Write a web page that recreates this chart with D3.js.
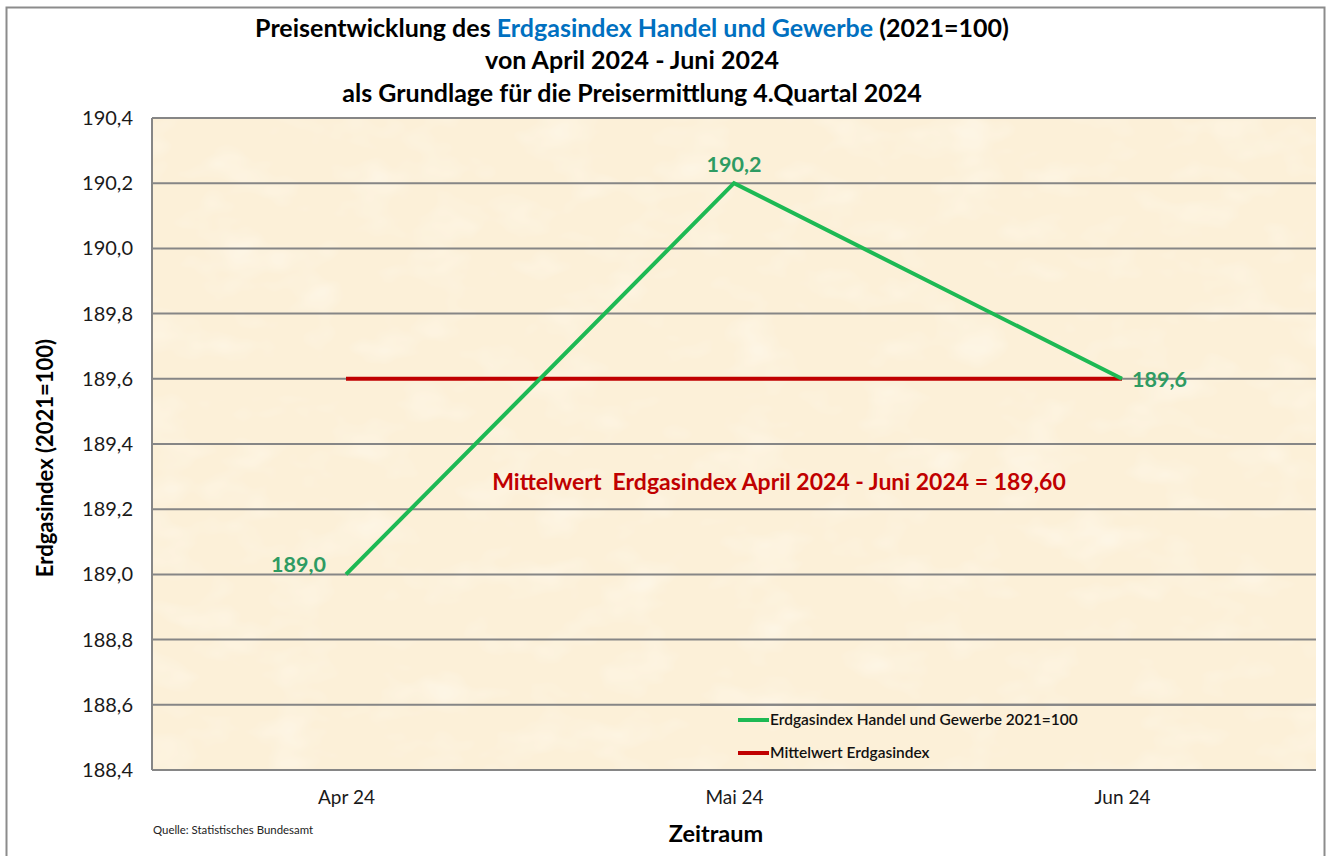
<!DOCTYPE html>
<html>
<head>
<meta charset="utf-8">
<script src="https://cdn.jsdelivr.net/npm/d3@7"></script>
<style>
  body { margin: 0; background: #fff; }
  text { font-family: Lato, "Noto Sans", sans-serif; }
</style>
</head>
<body>
<div id="chart"></div>
<script>
// data
var months = ["Apr 24", "Mai 24", "Jun 24"];
var indexValues = [189.0, 190.2, 189.6];
var meanValue = 189.6;
var yTicks = [188.4, 188.6, 188.8, 189.0, 189.2, 189.4, 189.6, 189.8, 190.0, 190.2, 190.4];

var w = 1332, h = 856;
var plot = {left: 152, right: 1316, top: 118, bottom: 770};

var svg = d3.select("#chart").append("svg")
    .attr("width", w)
    .attr("height", h);

// parchment look
var defs = svg.append("defs");
var filt = defs.append("filter").attr("id", "paper")
    .attr("x", 0).attr("y", 0).attr("width", 1).attr("height", 1);
filt.append("feTurbulence")
    .attr("type", "fractalNoise")
    .attr("baseFrequency", "0.015 0.025")
    .attr("numOctaves", 3)
    .attr("seed", 4)
    .attr("result", "noise");
filt.append("feColorMatrix")
    .attr("in", "noise")
    .attr("type", "matrix")
    .attr("values", "0 0 0 0 1  0 0 0 0 0.97  0 0 0 0 0.9  0 0 0 -1.1 0.55")
    .attr("result", "tint");
filt.append("feComposite").attr("in", "tint").attr("in2", "SourceGraphic").attr("operator", "atop");

// outer frame
svg.append("rect")
    .attr("x", 6.5).attr("y", 7.5)
    .attr("width", 1318).attr("height", 860)
    .attr("fill", "white")
    .attr("stroke", "#8c8c8c")
    .attr("stroke-width", 2);

var x = d3.scalePoint()
    .domain(months)
    .range([plot.left, plot.right])
    .padding(0.5);
var y = d3.scaleLinear()
    .domain([188.4, 190.4])
    .range([plot.bottom, plot.top]);

svg.append("rect")
    .attr("x", plot.left).attr("y", plot.top)
    .attr("width", plot.right - plot.left)
    .attr("height", plot.bottom - plot.top)
    .attr("fill", "#fcf0d8")
    .attr("filter", "url(#paper)");

// gridlines
svg.append("g")
    .selectAll("line")
    .data(yTicks)
    .enter().append("line")
      .attr("x1", plot.left).attr("x2", plot.right)
      .attr("y1", d => y(d)).attr("y2", d => y(d))
      .attr("stroke", "#868686")
      .attr("stroke-width", 2);

svg.append("line")
    .attr("x1", plot.left).attr("x2", plot.left)
    .attr("y1", plot.top).attr("y2", plot.bottom)
    .attr("stroke", "#868686").attr("stroke-width", 2);

// axes
var fmt = d => d3.format(".1f")(d).replace(".", ",");
var yAxis = d3.axisLeft(y).tickValues(yTicks).tickFormat(fmt).tickSize(0).tickPadding(19);
var gy = svg.append("g")
    .attr("transform", `translate(${plot.left},0)`)
    .call(yAxis);
gy.select(".domain").remove();
gy.selectAll("text")
    .attr("font-size", 20)
    .attr("fill", "#1a1a1a")
    .style("font-family", "Lato, sans-serif");

var xAxis = d3.axisBottom(x).tickSize(0).tickPadding(21);
var gx = svg.append("g")
    .attr("transform", `translate(0,${plot.bottom})`)
    .call(xAxis);
gx.select(".domain").remove();
gx.selectAll("text")
    .attr("font-size", 19)
    .attr("fill", "#1a1a1a")
    .style("font-family", "Lato, sans-serif");

// legend box (bottom right)
var lg = svg.append("g");
lg.append("line")
    .attr("x1", 700).attr("x2", plot.right)
    .attr("y1", y(188.6)).attr("y2", y(188.6))
    .attr("stroke", "#868686").attr("stroke-width", 2);
var legendItems = [
  {name: "Erdgasindex Handel und Gewerbe 2021=100", color: "#1db954", yy: 720},
  {name: "Mittelwert Erdgasindex", color: "#c00000", yy: 753}
];
legendItems.forEach(function(it) {
  lg.append("line")
      .attr("x1", 738).attr("x2", 769)
      .attr("y1", it.yy).attr("y2", it.yy)
      .attr("stroke", it.color).attr("stroke-width", 4);
  lg.append("text")
      .attr("x", 770).attr("y", it.yy)
      .attr("dy", "0.35em")
      .attr("font-size", 15.5)
      .attr("font-weight", 600)
      .attr("fill", "#111")
      .text(it.name);
});

// mean line
svg.append("line")
    .attr("x1", x(months[0])).attr("x2", x(months[months.length - 1]))
    .attr("y1", y(meanValue)).attr("y2", y(meanValue))
    .attr("stroke", "#c00000")
    .attr("stroke-width", 4);

// index line
var line = d3.line()
    .x((d, i) => x(months[i]))
    .y(d => y(d));
svg.append("path")
    .datum(indexValues)
    .attr("d", line)
    .attr("fill", "none")
    .attr("stroke", "#1db954")
    .attr("stroke-width", 4)
    .attr("stroke-linejoin", "miter");

// data labels
var labelPos = [
  {dx: -20, dy: -2, anchor: "end"},
  {dx: 0, dy: -11, anchor: "middle"},
  {dx: 10, dy: 8, anchor: "start"}
];
svg.append("g")
    .selectAll("text")
    .data(indexValues)
    .enter().append("text")
      .attr("x", (d, i) => x(months[i]) + labelPos[i].dx)
      .attr("y", (d, i) => y(d) + labelPos[i].dy)
      .attr("text-anchor", (d, i) => labelPos[i].anchor)
      .attr("font-size", 21.5)
      .attr("font-weight", 700)
      .attr("fill", "#2e9b62")
      .text(d => fmt(d));

// annotation
svg.append("text")
    .attr("x", 779).attr("y", 490)
    .attr("text-anchor", "middle")
    .attr("font-size", 23)
    .attr("font-weight", 700)
    .attr("fill", "#c00000")
    .attr("xml:space", "preserve")
    .text("Mittelwert  Erdgasindex April 2024 - Juni 2024 = " + fmt(meanValue) + "0");

// title
var title = svg.append("g")
    .attr("font-size", 25)
    .attr("font-weight", 700)
    .attr("fill", "#000")
    .attr("text-anchor", "middle");
var t1 = title.append("text").attr("x", 632).attr("y", 37);
t1.append("tspan").text("Preisentwicklung des ");
t1.append("tspan").attr("fill", "#0070c0").text("Erdgasindex Handel und Gewerbe");
t1.append("tspan").text(" (2021=100)");
title.append("text").attr("x", 632).attr("y", 69).text("von April 2024 - Juni 2024");
title.append("text").attr("x", 632).attr("y", 102).text("als Grundlage für die Preisermittlung 4.Quartal 2024");

// axis titles
svg.append("text")
    .attr("transform", "translate(53,458) rotate(-90)")
    .attr("text-anchor", "middle")
    .attr("font-size", 22)
    .attr("font-weight", 700)
    .attr("fill", "#000")
    .text("Erdgasindex (2021=100)");
svg.append("text")
    .attr("x", 716).attr("y", 842)
    .attr("text-anchor", "middle")
    .attr("font-size", 23.5)
    .attr("font-weight", 700)
    .attr("fill", "#000")
    .text("Zeitraum");

svg.append("text")
    .attr("x", 153).attr("y", 834)
    .attr("font-size", 11.4)
    .attr("fill", "#222")
    .text("Quelle: Statistisches Bundesamt");
</script>
</body>
</html>
